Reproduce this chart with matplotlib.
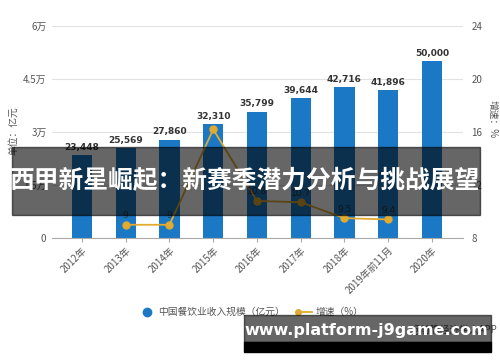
import matplotlib.pyplot as plt
from matplotlib.patches import Rectangle

plt.rcParams['font.family'] = ['Noto Sans CJK SC', 'DejaVu Sans']

# data
years = ['2012年', '2013年', '2014年', '2015年', '2016年', '2017年',
         '2018年', '2019年前11月', '2020年']
revenue = [23448, 25569, 27860, 32310, 35799, 39644, 42716, 41896, 50000]
growth_idx = [1, 2, 3, 4, 5, 6, 7]
growth = [9.0, 9.0, 16.2, 10.8, 10.7, 9.5, 9.4]
growth_labels = ['9', '9', '', '10.8', '10.7', '9.5', '9.4']

left_ticks = [0, 15000, 30000, 45000, 60000]
left_labels = ['0', '1.5万', '3万', '4.5万', '6万']
right_ticks = [8, 12, 16, 20, 24]

bar_color = '#1a78c4'
line_color = '#e2aa2e'
text_gray = '#555555'

fig = plt.figure(figsize=(5, 3.62), dpi=100)
ax = fig.add_axes([0.104, 0.3425, 0.822, 0.5855])
x = list(range(len(years)))
ax.bar(x, revenue, width=0.46, color=bar_color, zorder=2)
for xi, v in zip(x, revenue):
    ax.text(xi, v + 900, f'{v:,}', ha='center', va='bottom', fontsize=6.5,
            fontweight='bold', color='#333333', family='DejaVu Sans')

ax.set_xlim(-0.686, 8.71)
ax.set_ylim(0, 60000)
ax.set_yticks(left_ticks)
ax.set_yticklabels(left_labels)
ax.set_xticks(x)
ax.set_xticklabels(years, rotation=45, ha='right', rotation_mode='anchor')
ax.grid(axis='y', color='#e2e2e2', lw=0.8, zorder=0)
for s in ['top', 'right', 'left']:
    ax.spines[s].set_visible(False)
ax.spines['bottom'].set_color('#aaaaaa')
ax.tick_params(axis='y', length=0, labelsize=7, labelcolor=text_gray, pad=4)
ax.tick_params(axis='x', length=3, color='#aaaaaa', labelsize=7,
               labelcolor=text_gray, pad=2)

ax2 = ax.twinx()
ax2.plot(growth_idx, growth, color=line_color, lw=1.3, marker='o',
         markersize=5, zorder=3)
for xi, g, lab in zip(growth_idx, growth, growth_labels):
    if lab:
        ax2.text(xi, g + 0.35, lab, ha='center', va='bottom', fontsize=6.5,
                 color='#333333', family='DejaVu Sans')
ax2.set_ylim(8, 24)
ax2.set_yticks(right_ticks)
for s in ['top', 'right', 'left', 'bottom']:
    ax2.spines[s].set_visible(False)
ax2.tick_params(axis='y', length=0, labelsize=7, labelcolor=text_gray, pad=6)

fig.text(0.026, 0.64, '单位：亿元', rotation=90, ha='center', va='center',
         fontsize=7, color=text_gray)
fig.text(0.985, 0.67, '增速：%', rotation=-90, ha='center', va='center',
         fontsize=7, color=text_gray)

# legend
fig.lines.append(plt.Line2D([0.294], [0.138], marker='o', markersize=6,
                            color=bar_color, transform=fig.transFigure))
fig.text(0.316, 0.138, '中国餐饮业收入规模（亿元）', ha='left', va='center',
         fontsize=7, color=text_gray)
fig.lines.append(plt.Line2D([0.596, 0.624], [0.138, 0.138], lw=1.3,
                            color=line_color, marker='o', markersize=4,
                            markevery=[0], transform=fig.transFigure))
fig.text(0.632, 0.138, '增速（%）', ha='left', va='center',
         fontsize=7, color=text_gray)
fig.text(0.994, 0.088, '@前瞻经济学人APP', ha='right', va='center',
         fontsize=7, color=text_gray)

# title banner overlay
fig.patches.append(Rectangle((0.024, 0.406), 0.936, 0.188, color='black',
                             alpha=0.6, transform=fig.transFigure, zorder=10))
fig.text(0.49, 0.5, '西甲新星崛起：新赛季潜力分析与挑战展望', ha='center',
         va='center', fontsize=17.8, fontweight='bold', color='white',
         zorder=11)

# url banner overlay
fig.patches.append(Rectangle((0.488, 0.055), 0.494, 0.075, color='black',
                             alpha=0.6, transform=fig.transFigure, zorder=10))
fig.patches.append(Rectangle((0.488, 0.028), 0.494, 0.028, color='black',
                             transform=fig.transFigure, zorder=10))
fig.text(0.733, 0.087, 'www.platform-j9game.com', ha='center', va='center',
         fontsize=11.5, fontweight='bold', color='white',
         family='DejaVu Sans', zorder=11)

fig.savefig('out.png', dpi=100)
